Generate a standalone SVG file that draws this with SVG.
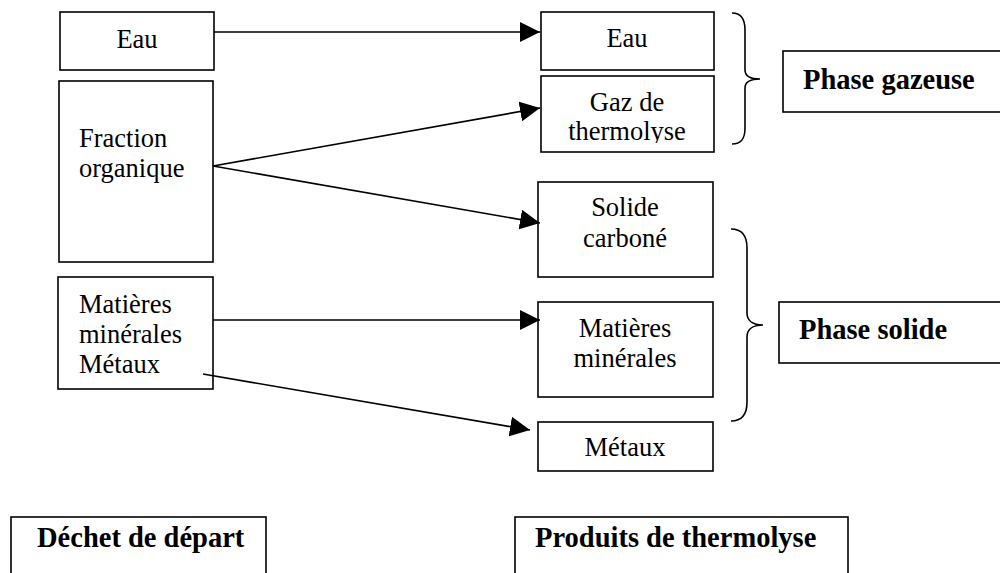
<svg xmlns="http://www.w3.org/2000/svg" width="1000" height="573" viewBox="0 0 1000 573">
  <style>
    .box { fill: #ffffff; stroke: #000000; stroke-width: 1.6; }
    .t { font-family: "Liberation Serif", "Times New Roman", serif; font-size: 26.5px; fill: #000000; }
    .c { text-anchor: middle; }
    .b { font-family: "Liberation Serif", "Times New Roman", serif; font-size: 28.5px; font-weight: bold; fill: #000000; }
    .edge { fill: none; stroke: #000000; stroke-width: 1.6; }
    .brace { fill: none; stroke: #000000; stroke-width: 1.6; }
  </style>
  <defs>
    <marker id="arrow" markerUnits="userSpaceOnUse" markerWidth="20" markerHeight="20" refX="20" refY="10" orient="auto">
      <path d="M0,0 L20,10 L0,20 Z" fill="#000000"/>
    </marker>
    <!-- text frame of the gas box cuts the second line short -->
    <clipPath id="gazClip">
      <rect x="541" y="76" width="173" height="67"/>
    </clipPath>
  </defs>
  <rect width="1000" height="573" fill="#ffffff"/>

  <!-- input waste -->
  <g id="in-eau">
    <rect class="box" x="60" y="12" width="154" height="58"/>
    <text class="t c" x="137" y="48">Eau</text>
  </g>
  <g id="in-fraction">
    <rect class="box" x="59" y="81" width="154" height="181"/>
    <text class="t" x="79" y="147">Fraction</text>
    <text class="t" x="79" y="177">organique</text>
  </g>
  <g id="in-matieres">
    <rect class="box" x="58" y="277" width="155" height="112"/>
    <text class="t" x="79" y="313">Matières</text>
    <text class="t" x="79" y="343">minérales</text>
    <text class="t" x="79" y="373">Métaux</text>
  </g>

  <!-- thermolysis products -->
  <g id="out-eau">
    <rect class="box" x="541" y="12" width="173" height="58"/>
    <text class="t c" x="627" y="47">Eau</text>
  </g>
  <g id="out-gaz">
    <rect class="box" x="541" y="76" width="173" height="76"/>
    <text class="t c" x="627" y="111">Gaz de</text>
    <text class="t c" x="627" y="140" clip-path="url(#gazClip)">thermolyse</text>
  </g>
  <g id="out-solide">
    <rect class="box" x="538" y="182" width="175" height="95"/>
    <text class="t c" x="625" y="216">Solide</text>
    <text class="t c" x="625" y="247">carboné</text>
  </g>
  <g id="out-mineraux">
    <rect class="box" x="538" y="302" width="175" height="95"/>
    <text class="t c" x="625" y="337">Matières</text>
    <text class="t c" x="625" y="367">minérales</text>
  </g>
  <g id="out-metaux">
    <rect class="box" x="538" y="422" width="175" height="49"/>
    <text class="t c" x="625" y="456">Métaux</text>
  </g>

  <!-- phase groupings -->
  <g id="brace-gaz">
    <path class="brace" d="M732,13 C742,13 745,20 745,30 L745,70 C745,76 750,79 760,79 C750,79 745,82 745,88 L745,128 C745,138 742,144 732,144"/>
  </g>
  <g id="phase-gazeuse">
    <rect class="box" x="783" y="51" width="230" height="61"/>
    <text class="b" x="803" y="89">Phase gazeuse</text>
  </g>
  <g id="brace-solide">
    <path class="brace" d="M731,229 C742,229 747,236 747,248 L747,313 C747,320 752,325 763,325 C752,325 747,330 747,337 L747,402 C747,414 742,421 731,421"/>
  </g>
  <g id="phase-solide">
    <rect class="box" x="779" y="302" width="234" height="61"/>
    <text class="b" x="799" y="339">Phase solide</text>
  </g>

  <!-- column captions -->
  <g id="caption-depart">
    <rect class="box" x="11" y="517" width="255" height="70"/>
    <text class="b" x="37" y="547">Déchet de départ</text>
  </g>
  <g id="caption-produits">
    <rect class="box" x="515" y="517" width="333" height="70"/>
    <text class="b" x="535" y="547">Produits de thermolyse</text>
  </g>

  <!-- connectors -->
  <g id="connectors">
    <line class="edge" x1="214" y1="32" x2="540" y2="32" marker-end="url(#arrow)"/>
    <line class="edge" x1="213" y1="166" x2="540" y2="108" marker-end="url(#arrow)"/>
    <line class="edge" x1="213" y1="166" x2="540" y2="223" marker-end="url(#arrow)"/>
    <line class="edge" x1="213" y1="320" x2="540" y2="320" marker-end="url(#arrow)"/>
    <line class="edge" x1="203" y1="374" x2="530" y2="430" marker-end="url(#arrow)"/>
  </g>
</svg>
